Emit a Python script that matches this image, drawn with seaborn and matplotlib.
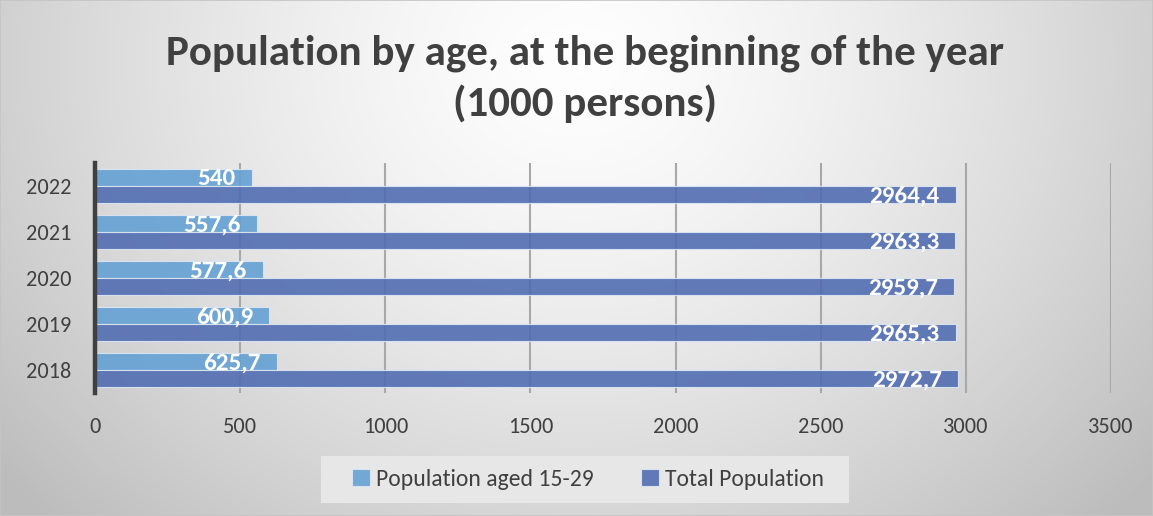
import numpy as np
import pandas as pd
import matplotlib
matplotlib.use("Agg")
import matplotlib.pyplot as plt
import seaborn as sns
from matplotlib.patches import Rectangle

# Population at the beginning of the year, thousands of persons
years = ["2022", "2021", "2020", "2019", "2018"]
youth = [540.0, 557.6, 577.6, 600.9, 625.7]
total = [2964.4, 2963.3, 2959.7, 2965.3, 2972.7]
series_names = ["Population aged 15-29", "Total Population"]
x_ticks = [0, 500, 1000, 1500, 2000, 2500, 3000, 3500]

title_lines = ["Population by age, at the beginning of the year", "(1000 persons)"]

df = pd.DataFrame({
    "year": years * 2,
    "value": youth + total,
    "series": [series_names[0]] * len(years) + [series_names[1]] * len(years),
})

sns.set_theme(style="white")
plt.rcParams["font.family"] = ["Carlito", "DejaVu Sans"]

W, H, DPI = 1153, 516, 100
fig = plt.figure(figsize=(W / DPI, H / DPI), dpi=DPI)

# soft radial backdrop
bg_ax = fig.add_axes([0, 0, 1, 1], zorder=-10)
yy, xx = np.mgrid[0:H, 0:W]
r = np.sqrt(((xx - W * 0.5) / (W * 0.6)) ** 2 + ((yy - H * 0.12) / (H * 1.15)) ** 2)
shade = np.clip(0.997 - 0.23 * r ** 1.4, 0.74, 1.0)
bg_ax.imshow(np.dstack([shade] * 3), extent=[0, 1, 0, 1], aspect="auto",
             interpolation="bilinear")
bg_ax.set_axis_off()
fig.patches.append(Rectangle((0, 0), 1, 1, transform=fig.transFigure,
                             fill=False, edgecolor="#c4c4c4", linewidth=1.2))

ax = fig.add_axes([95 / W, 1 - 393 / H, (1111 - 95) / W, (393 - 163) / H])
ax.set_facecolor("none")

palette = {series_names[0]: "#64a1d3", series_names[1]: "#526eb2"}
sns.barplot(data=df, y="year", x="value", hue="series", hue_order=series_names,
            order=years, orient="h", palette=palette, width=0.74, gap=0,
            alpha=0.9, edgecolor="#dde7f4", linewidth=0.8, saturation=1,
            ax=ax, zorder=3)

ax.set_xlim(0, 3500)
ax.set_xticks(x_ticks)
ax.set_xticklabels([str(t) for t in x_ticks])
ax.set_xlabel("")
ax.set_ylabel("")
ax.grid(axis="x", color="#a8a8a8", linewidth=1.5, zorder=0)
ax.grid(axis="y", visible=False)
ax.set_axisbelow(True)
for side in ("top", "right", "bottom"):
    ax.spines[side].set_visible(False)
ax.spines["left"].set_color("#404040")
ax.spines["left"].set_linewidth(3.2)
ax.spines["left"].set_zorder(5)
ax.tick_params(axis="both", length=0, labelsize=16, labelcolor="#404040")
ax.tick_params(axis="y", pad=17)
ax.tick_params(axis="x", pad=17)

# value labels inside the bar ends
for container in ax.containers:
    for patch, v in zip(container.patches, container.datavalues):
        label = f"{v:g}".replace(".", ",")
        ax.annotate(label, (patch.get_width(), patch.get_y() + patch.get_height() / 2),
                    xytext=(-11.5, -1), textcoords="offset points",
                    ha="right", va="center", color="white", fontsize=18,
                    fontweight="bold", zorder=6)

# legend
handles, labels = ax.get_legend_handles_labels()
if ax.get_legend() is not None:
    ax.get_legend().remove()
fig.patches.append(Rectangle((321 / W, 1 - 503 / H), (849 - 321) / W, 47 / H,
                             transform=fig.transFigure, facecolor="#e7e7e7",
                             edgecolor="none", zorder=1))
leg = fig.legend(handles, labels, loc="center", ncol=2,
                 bbox_to_anchor=(588 / W, 1 - 479 / H), frameon=False,
                 fontsize=17, handlelength=0.75, handleheight=0.75,
                 handletextpad=0.25, columnspacing=2.0, labelcolor="#404040")
for h in leg.legend_handles:
    h.set_edgecolor("#dde7f4")

# two-line title
fig.text(585 / W, 1 - 65 / H, title_lines[0], ha="center", va="baseline",
         fontsize=31, fontweight="bold", color="#404040")
fig.text(585 / W, 1 - 116 / H, title_lines[1], ha="center", va="baseline",
         fontsize=31, fontweight="bold", color="#404040")

fig.savefig("out.png", dpi=DPI)
